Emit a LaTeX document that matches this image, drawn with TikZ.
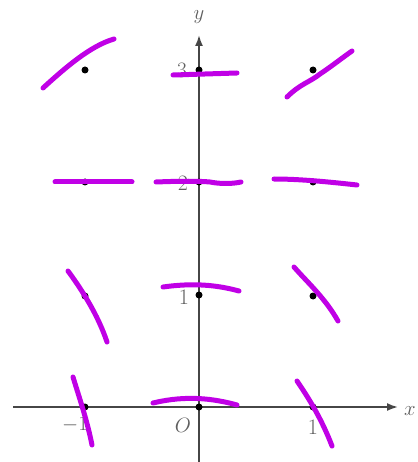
\documentclass[tikz,border=0pt]{standalone}
\usetikzlibrary{arrows.meta}
\definecolor{mag}{RGB}{192,0,230}
\definecolor{ax}{RGB}{70,70,70}
\definecolor{labc}{RGB}{95,95,95}
\tikzset{
  seg/.style={mag,line width=5pt,line cap=round,line join=round},
  axis/.style={ax,line width=1.8pt,-{Latex[length=11pt,width=8pt]}},
  lab/.style={text=labc,font=\fontsize{22}{24}\selectfont,inner sep=0pt},
  pt/.style={circle,fill=black,inner sep=0pt,minimum size=7pt}
}
\begin{document}
\begin{tikzpicture}[x=1pt,y=-1pt]
\useasboundingbox (0,0) rectangle (417,462);
% axes
\coordinate (xs) at (13,407);
\coordinate (xe) at (398,407);
\coordinate (ys) at (199,462);
\coordinate (ye) at (199,35);
\draw[axis] (xs) -- (xe);
\draw[axis] (ys) -- (ye);
\node[lab] (ylab) at (199,17) {$y$};
\node[lab] (xlab) at (410,411) {$x$};
\node[lab] (l3) at (182,70) {3};
\node[lab] (l2) at (183,183) {2};
\node[lab] (l1) at (184,297) {1};
\node[lab] (lo) at (183,425) {$O$};
\node[lab] (lm1) at (75,425) {$-1$};
\node[lab] (lp1) at (313,427) {1};
% grid points
\foreach \n/\px/\py in {a/85/70,b/313/70,c/199/70,d/85/182,e/199/182,f/313/182,g/85/296,h/199/295,i/313/296,j/85/407,k/199/407,l/313/407}
  \node[pt] (\n) at (\px,\py) {};
% slope segments
\draw[seg] (43,88) .. controls (65,68) and (90,46) .. (114,39);
\draw[seg] (173,75) -- (237,73);
\draw[seg] (287,97) .. controls (300,84) and (310,82) .. (320,74) .. controls (332,66) and (342,58) .. (352,51);
\draw[seg] (55,182) -- (132,182);
\draw[seg] (156,182) .. controls (180,181) and (200,181) .. (210,182) .. controls (220,184) and (232,184) .. (241,182);
\draw[seg] (274,179) .. controls (300,179) and (330,182) .. (357,185);
\draw[seg] (68,271) .. controls (82,290) and (98,315) .. (107,342);
\draw[seg] (163,287) .. controls (185,284) and (210,283) .. (239,291);
\draw[seg] (294,267) .. controls (308,283) and (325,298) .. (338,321);
\draw[seg] (73,377) .. controls (80,400) and (87,420) .. (92,445);
\draw[seg] (153,403) .. controls (178,397) and (205,396) .. (237,405);
\draw[seg] (297,381) .. controls (310,400) and (322,420) .. (332,446);
\end{tikzpicture}
\end{document}
